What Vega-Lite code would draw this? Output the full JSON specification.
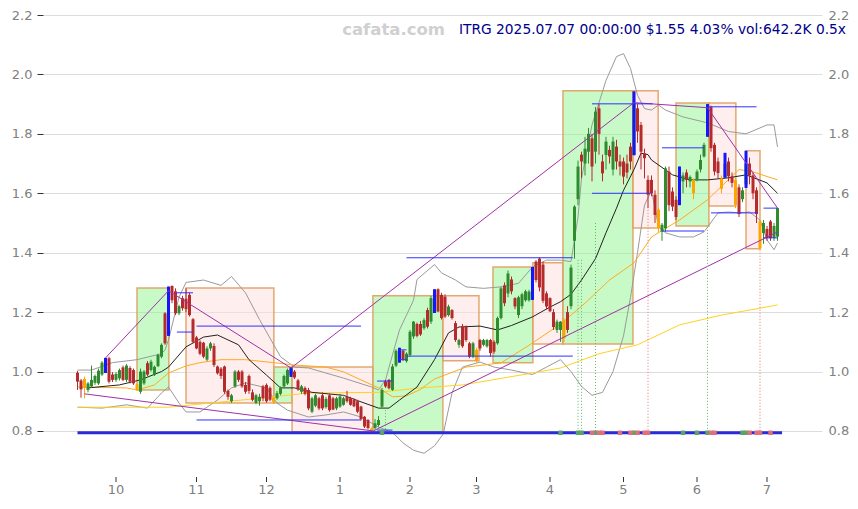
{
"$schema": "https://vega.github.io/schema/vega-lite/v6.json",
"width": 779, "height": 462,
"autosize": {"type": "none"},
"padding": {"left": 43, "top": 15, "right": 36, "bottom": 32},
"background": "white",
"config": {"view": {"stroke": null}},
"datasets": {
"candles": [
{"i":0,"o":0.996,"h":1.002,"l":0.938,"c":0.966},{"i":1,"o":0.970,"h":0.975,"l":0.912,"c":0.940},{"i":2,"o":0.975,"h":0.983,"l":0.910,"c":0.945,"f":1},{"i":3,"o":0.938,"h":0.965,"l":0.930,"c":0.960},{"i":4,"o":0.950,"h":1.020,"l":0.945,"c":0.972},{"i":5,"o":0.962,"h":0.990,"l":0.955,"c":0.985},{"i":6,"o":0.960,"h":1.010,"l":0.955,"c":1.003},{"i":7,"o":0.990,"h":1.035,"l":0.985,"c":1.030},{"i":8,"o":1.040,"h":1.046,"l":0.995,"c":1.000,"p":1},{"i":9,"o":1.045,"h":1.050,"l":0.960,"c":0.966},
{"i":10,"o":0.990,"h":0.998,"l":0.965,"c":0.972},{"i":11,"o":0.972,"h":0.998,"l":0.965,"c":0.992},{"i":12,"o":0.977,"h":1.010,"l":0.970,"c":1.005},{"i":13,"o":1.014,"h":1.020,"l":0.968,"c":0.972},{"i":14,"o":0.972,"h":1.025,"l":0.965,"c":1.020},{"i":15,"o":1.012,"h":1.018,"l":0.960,"c":0.966},{"i":16,"o":1.005,"h":1.010,"l":0.955,"c":0.960},{"i":17,"o":0.957,"h":0.960,"l":0.935,"c":0.940,"f":1},{"i":18,"o":0.932,"h":1.010,"l":0.925,"c":1.000},{"i":19,"o":0.960,"h":1.005,"l":0.955,"c":1.000},
{"i":20,"o":1.028,"h":1.035,"l":0.985,"c":0.990},{"i":21,"o":1.005,"h":1.040,"l":1.000,"c":1.033},{"i":22,"o":0.990,"h":1.020,"l":0.985,"c":1.016},{"i":23,"o":1.018,"h":1.060,"l":1.015,"c":1.056},{"i":24,"o":1.050,"h":1.095,"l":1.045,"c":1.090},{"i":25,"o":1.196,"h":1.200,"l":1.090,"c":1.095},{"i":26,"o":1.275,"h":1.286,"l":1.120,"c":1.160,"p":1},{"i":27,"o":1.288,"h":1.290,"l":1.230,"c":1.240},{"i":28,"o":1.270,"h":1.280,"l":1.190,"c":1.196},{"i":29,"o":1.196,"h":1.225,"l":1.190,"c":1.220},
{"i":30,"o":1.247,"h":1.255,"l":1.205,"c":1.213},{"i":31,"o":1.245,"h":1.280,"l":1.200,"c":1.210},{"i":32,"o":1.258,"h":1.265,"l":1.185,"c":1.190},{"i":33,"o":1.176,"h":1.180,"l":1.095,"c":1.100},{"i":34,"o":1.115,"h":1.120,"l":1.075,"c":1.078},{"i":35,"o":1.100,"h":1.105,"l":1.055,"c":1.060},{"i":36,"o":1.097,"h":1.100,"l":1.045,"c":1.050},{"i":37,"o":1.040,"h":1.085,"l":1.035,"c":1.078},{"i":38,"o":1.078,"h":1.100,"l":1.070,"c":1.095},{"i":39,"o":1.086,"h":1.095,"l":1.015,"c":1.022},
{"i":40,"o":1.017,"h":1.020,"l":0.990,"c":0.994},{"i":41,"o":1.010,"h":1.015,"l":0.975,"c":0.985},{"i":42,"o":1.017,"h":1.020,"l":0.925,"c":0.932},{"i":43,"o":0.935,"h":0.940,"l":0.905,"c":0.915},{"i":44,"o":0.900,"h":0.925,"l":0.895,"c":0.920},{"i":45,"o":0.950,"h":1.005,"l":0.945,"c":1.000},{"i":46,"o":1.000,"h":1.005,"l":0.965,"c":0.972},{"i":47,"o":1.000,"h":1.005,"l":0.945,"c":0.950},{"i":48,"o":0.955,"h":0.965,"l":0.925,"c":0.932},{"i":49,"o":0.985,"h":0.990,"l":0.925,"c":0.935},
{"i":50,"o":0.930,"h":0.940,"l":0.900,"c":0.905},{"i":51,"o":0.895,"h":0.925,"l":0.890,"c":0.920},{"i":52,"o":0.900,"h":0.925,"l":0.885,"c":0.915},{"i":53,"o":0.950,"h":0.955,"l":0.900,"c":0.910},{"i":54,"o":0.955,"h":0.960,"l":0.895,"c":0.900},{"i":55,"o":0.945,"h":0.950,"l":0.900,"c":0.905},{"i":56,"o":0.912,"h":0.915,"l":0.893,"c":0.898,"f":1},{"i":57,"o":0.910,"h":0.935,"l":0.905,"c":0.927},{"i":58,"o":0.925,"h":0.950,"l":0.920,"c":0.945},{"i":59,"o":0.950,"h":0.990,"l":0.945,"c":0.985},
{"i":60,"o":0.960,"h":1.010,"l":0.955,"c":1.005},{"i":61,"o":1.010,"h":1.015,"l":0.982,"c":0.990,"p":1},{"i":62,"o":1.000,"h":1.005,"l":0.975,"c":0.980},{"i":63,"o":0.970,"h":0.975,"l":0.935,"c":0.940},{"i":64,"o":0.932,"h":0.955,"l":0.925,"c":0.950},{"i":65,"o":0.945,"h":0.950,"l":0.920,"c":0.925},{"i":66,"o":0.938,"h":0.945,"l":0.870,"c":0.876},{"i":67,"o":0.865,"h":0.915,"l":0.860,"c":0.910},{"i":68,"o":0.885,"h":0.925,"l":0.880,"c":0.920},{"i":69,"o":0.910,"h":0.915,"l":0.870,"c":0.876},
{"i":70,"o":0.920,"h":0.930,"l":0.870,"c":0.876},{"i":71,"o":0.880,"h":0.915,"l":0.875,"c":0.908},{"i":72,"o":0.920,"h":0.925,"l":0.865,"c":0.870},{"i":73,"o":0.910,"h":0.915,"l":0.870,"c":0.872},{"i":74,"o":0.876,"h":0.915,"l":0.870,"c":0.910},{"i":75,"o":0.882,"h":0.925,"l":0.878,"c":0.916},{"i":76,"o":0.888,"h":0.915,"l":0.885,"c":0.910},{"i":77,"o":0.915,"h":0.935,"l":0.895,"c":0.900},{"i":78,"o":0.910,"h":0.915,"l":0.885,"c":0.888},{"i":79,"o":0.905,"h":0.910,"l":0.880,"c":0.883},
{"i":80,"o":0.900,"h":0.905,"l":0.860,"c":0.865},{"i":81,"o":0.882,"h":0.885,"l":0.835,"c":0.840},{"i":82,"o":0.848,"h":0.850,"l":0.810,"c":0.815},{"i":83,"o":0.837,"h":0.840,"l":0.805,"c":0.810},{"i":84,"o":0.808,"h":0.812,"l":0.797,"c":0.800,"f":1},{"i":85,"o":0.810,"h":0.840,"l":0.805,"c":0.826},{"i":86,"o":0.820,"h":0.850,"l":0.815,"c":0.837},{"i":87,"o":0.882,"h":0.945,"l":0.878,"c":0.938},{"i":88,"o":0.966,"h":0.972,"l":0.945,"c":0.950},{"i":89,"o":0.972,"h":0.975,"l":0.940,"c":0.944},
{"i":90,"o":0.938,"h":1.025,"l":0.935,"c":1.017},{"i":91,"o":1.020,"h":1.075,"l":1.015,"c":1.070},{"i":92,"o":1.073,"h":1.080,"l":1.030,"c":1.035,"p":1},{"i":93,"o":1.070,"h":1.073,"l":1.035,"c":1.040},{"i":94,"o":1.035,"h":1.065,"l":1.030,"c":1.060},{"i":95,"o":1.056,"h":1.140,"l":1.050,"c":1.134},{"i":96,"o":1.118,"h":1.170,"l":1.110,"c":1.168},{"i":97,"o":1.160,"h":1.165,"l":1.115,"c":1.120},{"i":98,"o":1.160,"h":1.170,"l":1.120,"c":1.125},{"i":99,"o":1.146,"h":1.180,"l":1.140,"c":1.173},
{"i":100,"o":1.207,"h":1.215,"l":1.145,"c":1.151},{"i":101,"o":1.168,"h":1.255,"l":1.160,"c":1.247},{"i":102,"o":1.200,"h":1.277,"l":1.197,"c":1.270,"p":1},{"i":103,"o":1.277,"h":1.280,"l":1.200,"c":1.202},{"i":104,"o":1.258,"h":1.265,"l":1.175,"c":1.180},{"i":105,"o":1.252,"h":1.260,"l":1.180,"c":1.185},{"i":106,"o":1.190,"h":1.225,"l":1.185,"c":1.219},{"i":107,"o":1.207,"h":1.210,"l":1.175,"c":1.180},{"i":108,"o":1.163,"h":1.170,"l":1.100,"c":1.106},{"i":109,"o":1.090,"h":1.110,"l":1.080,"c":1.106},
{"i":110,"o":1.151,"h":1.160,"l":1.080,"c":1.085},{"i":111,"o":1.151,"h":1.155,"l":1.100,"c":1.106},{"i":112,"o":1.095,"h":1.100,"l":1.045,"c":1.050},{"i":113,"o":1.050,"h":1.100,"l":1.045,"c":1.095},{"i":114,"o":1.073,"h":1.080,"l":1.030,"c":1.036,"f":1},{"i":115,"o":1.106,"h":1.110,"l":1.070,"c":1.078},{"i":116,"o":1.090,"h":1.110,"l":1.085,"c":1.106},{"i":117,"o":1.085,"h":1.110,"l":1.080,"c":1.106},{"i":118,"o":1.106,"h":1.110,"l":1.050,"c":1.062},{"i":119,"o":1.100,"h":1.105,"l":1.060,"c":1.067},
{"i":120,"o":1.095,"h":1.185,"l":1.090,"c":1.180},{"i":121,"o":1.180,"h":1.285,"l":1.175,"c":1.280},{"i":122,"o":1.290,"h":1.300,"l":1.220,"c":1.230},{"i":123,"o":1.263,"h":1.340,"l":1.250,"c":1.330},{"i":124,"o":1.310,"h":1.320,"l":1.260,"c":1.270},{"i":125,"o":1.247,"h":1.250,"l":1.210,"c":1.219},{"i":126,"o":1.190,"h":1.255,"l":1.180,"c":1.250},{"i":127,"o":1.220,"h":1.265,"l":1.210,"c":1.260},{"i":128,"o":1.240,"h":1.275,"l":1.235,"c":1.270},{"i":129,"o":1.240,"h":1.275,"l":1.235,"c":1.269},
{"i":130,"o":1.260,"h":1.352,"l":1.241,"c":1.345,"p":1},{"i":131,"o":1.370,"h":1.375,"l":1.300,"c":1.308},{"i":132,"o":1.380,"h":1.385,"l":1.270,"c":1.283},{"i":133,"o":1.360,"h":1.370,"l":1.230,"c":1.238},{"i":134,"o":1.263,"h":1.270,"l":1.210,"c":1.219},{"i":135,"o":1.247,"h":1.250,"l":1.200,"c":1.203},{"i":136,"o":1.200,"h":1.210,"l":1.140,"c":1.150},{"i":137,"o":1.140,"h":1.175,"l":1.130,"c":1.168},{"i":138,"o":1.140,"h":1.170,"l":1.100,"c":1.168},{"i":139,"o":1.173,"h":1.180,"l":1.100,"c":1.112,"f":1},
{"i":140,"o":1.200,"h":1.220,"l":1.130,"c":1.140},{"i":141,"o":1.220,"h":1.360,"l":1.210,"c":1.350},{"i":142,"o":1.440,"h":1.560,"l":1.380,"c":1.555},{"i":143,"o":1.580,"h":1.710,"l":1.560,"c":1.690},{"i":144,"o":1.730,"h":1.740,"l":1.650,"c":1.707},{"i":145,"o":1.700,"h":1.790,"l":1.660,"c":1.750},{"i":146,"o":1.740,"h":1.820,"l":1.700,"c":1.800},{"i":147,"o":1.785,"h":1.800,"l":1.640,"c":1.690},{"i":148,"o":1.740,"h":1.890,"l":1.700,"c":1.875},{"i":149,"o":1.886,"h":1.900,"l":1.730,"c":1.800},
{"i":150,"o":1.707,"h":1.730,"l":1.640,"c":1.667},{"i":151,"o":1.729,"h":1.790,"l":1.680,"c":1.774},{"i":152,"o":1.746,"h":1.760,"l":1.700,"c":1.724},{"i":153,"o":1.680,"h":1.790,"l":1.660,"c":1.774},{"i":154,"o":1.757,"h":1.780,"l":1.680,"c":1.707},{"i":155,"o":1.707,"h":1.730,"l":1.660,"c":1.690},{"i":156,"o":1.707,"h":1.720,"l":1.630,"c":1.656},{"i":157,"o":1.700,"h":1.730,"l":1.650,"c":1.670},{"i":158,"o":1.757,"h":1.770,"l":1.680,"c":1.707},{"i":159,"o":1.730,"h":1.943,"l":1.728,"c":1.900,"p":1},
{"i":160,"o":1.886,"h":1.900,"l":1.770,"c":1.808},{"i":161,"o":1.830,"h":1.840,"l":1.680,"c":1.740},{"i":162,"o":1.735,"h":1.750,"l":1.650,"c":1.718},{"i":163,"o":1.645,"h":1.660,"l":1.550,"c":1.595},{"i":164,"o":1.645,"h":1.660,"l":1.590,"c":1.600},{"i":165,"o":1.595,"h":1.610,"l":1.500,"c":1.527},{"i":166,"o":1.545,"h":1.550,"l":1.470,"c":1.482,"f":1},{"i":167,"o":1.471,"h":1.500,"l":1.440,"c":1.494},{"i":168,"o":1.482,"h":1.690,"l":1.470,"c":1.684},{"i":169,"o":1.673,"h":1.690,"l":1.540,"c":1.560},
{"i":170,"o":1.606,"h":1.620,"l":1.540,"c":1.555},{"i":171,"o":1.578,"h":1.590,"l":1.510,"c":1.520},{"i":172,"o":1.570,"h":1.690,"l":1.560,"c":1.680,"p":1},{"i":173,"o":1.640,"h":1.670,"l":1.600,"c":1.660},{"i":174,"o":1.670,"h":1.680,"l":1.620,"c":1.645},{"i":175,"o":1.640,"h":1.660,"l":1.620,"c":1.655},{"i":176,"o":1.645,"h":1.650,"l":1.580,"c":1.600,"f":1},{"i":177,"o":1.645,"h":1.680,"l":1.640,"c":1.673},{"i":178,"o":1.680,"h":1.730,"l":1.670,"c":1.712},{"i":179,"o":1.724,"h":1.770,"l":1.720,"c":1.763},
{"i":180,"o":1.800,"h":1.900,"l":1.790,"c":1.880,"p":1},{"i":181,"o":1.890,"h":1.895,"l":1.740,"c":1.752},{"i":182,"o":1.763,"h":1.770,"l":1.660,"c":1.673},{"i":183,"o":1.707,"h":1.720,"l":1.650,"c":1.668},{"i":184,"o":1.650,"h":1.660,"l":1.600,"c":1.615,"f":1},{"i":185,"o":1.655,"h":1.736,"l":1.652,"c":1.700,"p":1},{"i":186,"o":1.707,"h":1.720,"l":1.640,"c":1.657},{"i":187,"o":1.657,"h":1.670,"l":1.620,"c":1.635},{"i":188,"o":1.645,"h":1.650,"l":1.550,"c":1.561,"f":1},{"i":189,"o":1.620,"h":1.630,"l":1.520,"c":1.530},
{"i":190,"o":1.580,"h":1.620,"l":1.570,"c":1.610},{"i":191,"o":1.630,"h":1.743,"l":1.618,"c":1.700,"p":1},{"i":192,"o":1.700,"h":1.720,"l":1.630,"c":1.660},{"i":193,"o":1.660,"h":1.670,"l":1.580,"c":1.600},{"i":194,"o":1.610,"h":1.620,"l":1.500,"c":1.530},{"i":195,"o":1.505,"h":1.510,"l":1.410,"c":1.415,"f":1},{"i":196,"o":1.466,"h":1.510,"l":1.430,"c":1.500},{"i":197,"o":1.480,"h":1.490,"l":1.440,"c":1.450},{"i":198,"o":1.505,"h":1.510,"l":1.440,"c":1.449},{"i":199,"o":1.450,"h":1.500,"l":1.440,"c":1.490},
{"i":200,"o":1.454,"h":1.550,"l":1.440,"c":1.550}
],
"lines": [
{"s":"bbu","i":0,"v":1.005},{"s":"bbu","i":4,"v":1.005},{"s":"bbu","i":10,"v":1.03},{"s":"bbu","i":17,"v":1.04},{"s":"bbu","i":24,"v":1.06},{"s":"bbu","i":25,"v":1.073},{"s":"bbu","i":26,"v":1.106},{"s":"bbu","i":29,"v":1.25},{"s":"bbu","i":31,"v":1.3},{"s":"bbu","i":36,"v":1.308},{"s":"bbu","i":41,"v":1.29},{"s":"bbu","i":44,"v":1.32},{"s":"bbu","i":48,"v":1.265},{"s":"bbu","i":52,"v":1.175},{"s":"bbu","i":58,"v":1.05},{"s":"bbu","i":62,"v":1.015},{"s":"bbu","i":66,"v":1.012},{"s":"bbu","i":76,"v":0.978},{"s":"bbu","i":84,"v":0.948},{"s":"bbu","i":86,"v":0.938},{"s":"bbu","i":88,"v":0.972},{"s":"bbu","i":92,"v":1.14},{"s":"bbu","i":96,"v":1.24},{"s":"bbu","i":97,"v":1.31},{"s":"bbu","i":102,"v":1.36},{"s":"bbu","i":104,"v":1.332},{"s":"bbu","i":108,"v":1.308},{"s":"bbu","i":111,"v":1.285},{"s":"bbu","i":116,"v":1.28},{"s":"bbu","i":121,"v":1.285},{"s":"bbu","i":126,"v":1.297},{"s":"bbu","i":130,"v":1.352},{"s":"bbu","i":134,"v":1.375},{"s":"bbu","i":138,"v":1.375},{"s":"bbu","i":141,"v":1.37},{"s":"bbu","i":143,"v":1.52},{"s":"bbu","i":144,"v":1.65},{"s":"bbu","i":147,"v":1.83},{"s":"bbu","i":151,"v":1.98},{"s":"bbu","i":154,"v":2.06},{"s":"bbu","i":156,"v":2.07},{"s":"bbu","i":158,"v":2.02},{"s":"bbu","i":160,"v":1.93},{"s":"bbu","i":162,"v":1.885},{"s":"bbu","i":164,"v":1.88},{"s":"bbu","i":166,"v":1.897},{"s":"bbu","i":168,"v":1.88},{"s":"bbu","i":173,"v":1.857},{"s":"bbu","i":180,"v":1.837},{"s":"bbu","i":186,"v":1.808},{"s":"bbu","i":191,"v":1.8},{"s":"bbu","i":197,"v":1.83},{"s":"bbu","i":199,"v":1.83},{"s":"bbu","i":200,"v":1.756},
{"s":"bbl","i":0,"v":0.88},{"s":"bbl","i":7,"v":0.877},{"s":"bbl","i":14,"v":0.888},{"s":"bbl","i":20,"v":0.877},{"s":"bbl","i":24,"v":0.928},{"s":"bbl","i":26,"v":0.948},{"s":"bbl","i":29,"v":0.894},{"s":"bbl","i":31,"v":0.864},{"s":"bbl","i":35,"v":0.864},{"s":"bbl","i":40,"v":0.904},{"s":"bbl","i":44,"v":0.945},{"s":"bbl","i":48,"v":0.962},{"s":"bbl","i":54,"v":0.945},{"s":"bbl","i":57,"v":0.894},{"s":"bbl","i":60,"v":0.87},{"s":"bbl","i":66,"v":0.847},{"s":"bbl","i":71,"v":0.854},{"s":"bbl","i":76,"v":0.864},{"s":"bbl","i":81,"v":0.847},{"s":"bbl","i":86,"v":0.813},{"s":"bbl","i":90,"v":0.795},{"s":"bbl","i":93,"v":0.76},{"s":"bbl","i":96,"v":0.735},{"s":"bbl","i":99,"v":0.725},{"s":"bbl","i":102,"v":0.75},{"s":"bbl","i":104.5,"v":0.79},{"s":"bbl","i":107,"v":0.928},{"s":"bbl","i":110,"v":1.015},{"s":"bbl","i":115,"v":1.032},{"s":"bbl","i":119,"v":1.015},{"s":"bbl","i":124,"v":1.005},{"s":"bbl","i":130,"v":0.99},{"s":"bbl","i":134,"v":1.015},{"s":"bbl","i":138,"v":1.04},{"s":"bbl","i":141,"v":1.0},{"s":"bbl","i":144,"v":0.95},{"s":"bbl","i":147,"v":0.92},{"s":"bbl","i":150,"v":0.93},{"s":"bbl","i":153,"v":1.0},{"s":"bbl","i":156,"v":1.12},{"s":"bbl","i":158,"v":1.25},{"s":"bbl","i":160,"v":1.40},{"s":"bbl","i":162,"v":1.56},{"s":"bbl","i":164,"v":1.61},{"s":"bbl","i":166,"v":1.487},{"s":"bbl","i":168,"v":1.467},{"s":"bbl","i":172,"v":1.453},{"s":"bbl","i":176,"v":1.453},{"s":"bbl","i":179,"v":1.47},{"s":"bbl","i":183,"v":1.534},{"s":"bbl","i":186,"v":1.537},{"s":"bbl","i":189,"v":1.534},{"s":"bbl","i":192,"v":1.537},{"s":"bbl","i":195,"v":1.51},{"s":"bbl","i":197,"v":1.443},{"s":"bbl","i":199,"v":1.41},{"s":"bbl","i":200,"v":1.433},
{"s":"may","i":0,"v":0.88},{"s":"may","i":26,"v":0.88},{"s":"may","i":38,"v":0.894},{"s":"may","i":52,"v":0.91},{"s":"may","i":66,"v":0.928},{"s":"may","i":86,"v":0.93},{"s":"may","i":98,"v":0.945},{"s":"may","i":110,"v":0.955},{"s":"may","i":130,"v":0.995},{"s":"may","i":138,"v":1.012},{"s":"may","i":149,"v":1.06},{"s":"may","i":160,"v":1.09},{"s":"may","i":172,"v":1.157},{"s":"may","i":184,"v":1.19},{"s":"may","i":200,"v":1.224},
{"s":"mao","i":0,"v":0.948},{"s":"mao","i":14,"v":0.945},{"s":"mao","i":17,"v":0.938},{"s":"mao","i":22,"v":0.955},{"s":"mao","i":26,"v":0.995},{"s":"mao","i":31,"v":1.019},{"s":"mao","i":35,"v":1.03},{"s":"mao","i":41,"v":1.04},{"s":"mao","i":48,"v":1.04},{"s":"mao","i":56,"v":1.03},{"s":"mao","i":62,"v":1.022},{"s":"mao","i":71,"v":1.015},{"s":"mao","i":76,"v":0.999},{"s":"mao","i":81,"v":0.972},{"s":"mao","i":86,"v":0.945},{"s":"mao","i":90,"v":0.915},{"s":"mao","i":94,"v":0.918},{"s":"mao","i":98,"v":0.94},{"s":"mao","i":102,"v":0.975},{"s":"mao","i":111,"v":1.015},{"s":"mao","i":121,"v":1.029},{"s":"mao","i":130,"v":1.096},{"s":"mao","i":138,"v":1.16},{"s":"mao","i":145,"v":1.23},{"s":"mao","i":152,"v":1.308},{"s":"mao","i":159,"v":1.366},{"s":"mao","i":164,"v":1.453},{"s":"mao","i":172,"v":1.51},{"s":"mao","i":180,"v":1.578},{"s":"mao","i":189,"v":1.68},{"s":"mao","i":193,"v":1.672},{"s":"mao","i":200,"v":1.645},
{"s":"mak","i":3,"v":0.945},{"s":"mak","i":12,"v":0.955},{"s":"mak","i":18,"v":0.972},{"s":"mak","i":24,"v":1.0},{"s":"mak","i":26,"v":1.015},{"s":"mak","i":31,"v":1.083},{"s":"mak","i":36,"v":1.116},{"s":"mak","i":40,"v":1.123},{"s":"mak","i":46,"v":1.09},{"s":"mak","i":49,"v":1.04},{"s":"mak","i":54,"v":0.988},{"s":"mak","i":58,"v":0.945},{"s":"mak","i":62,"v":0.945},{"s":"mak","i":67,"v":0.93},{"s":"mak","i":76,"v":0.92},{"s":"mak","i":81,"v":0.898},{"s":"mak","i":86,"v":0.877},{"s":"mak","i":89,"v":0.877},{"s":"mak","i":92,"v":0.904},{"s":"mak","i":97,"v":0.948},{"s":"mak","i":102,"v":1.04},{"s":"mak","i":106,"v":1.13},{"s":"mak","i":109,"v":1.15},{"s":"mak","i":115,"v":1.153},{"s":"mak","i":120,"v":1.14},{"s":"mak","i":124,"v":1.155},{"s":"mak","i":130,"v":1.184},{"s":"mak","i":135,"v":1.217},{"s":"mak","i":138,"v":1.235},{"s":"mak","i":141,"v":1.26},{"s":"mak","i":144,"v":1.308},{"s":"mak","i":148,"v":1.38},{"s":"mak","i":151,"v":1.467},{"s":"mak","i":154,"v":1.55},{"s":"mak","i":156,"v":1.61},{"s":"mak","i":159,"v":1.68},{"s":"mak","i":161,"v":1.735},{"s":"mak","i":163,"v":1.73},{"s":"mak","i":164,"v":1.712},{"s":"mak","i":170,"v":1.662},{"s":"mak","i":175,"v":1.645},{"s":"mak","i":180,"v":1.645},{"s":"mak","i":186,"v":1.652},{"s":"mak","i":191,"v":1.662},{"s":"mak","i":197,"v":1.635},{"s":"mak","i":200,"v":1.6}
],
"zigzag": [
{"g":"a","i":8,"v":1.046},{"g":"a","i":26,"v":1.272},{"g":"a","i":61,"v":1.012},{"g":"a","i":159,"v":1.905},{"g":"a","i":180,"v":1.888},{"g":"a","i":200,"v":1.55},
{"g":"b","i":2,"v":0.925},{"g":"b","i":84.5,"v":0.80},{"g":"b","i":200,"v":1.47}
],
"levels": [
{"i1":28.4,"i2":33,"v":1.265},{"i1":28.4,"i2":33,"v":1.133},{"i1":34,"i2":81,"v":1.153},{"i1":34,"i2":81,"v":0.837},{"i1":85.6,"i2":90,"v":0.968},{"i1":85.6,"i2":90,"v":0.803},{"i1":92,"i2":94,"v":1.073},{"i1":92,"i2":94,"v":1.04},{"i1":94,"i2":141.5,"v":1.383},{"i1":94,"i2":141.5,"v":1.052},{"i1":147,"i2":164.3,"v":1.901},{"i1":147,"i2":163.7,"v":1.60},{"i1":167,"i2":179,"v":1.753},{"i1":167,"i2":179,"v":1.473},{"i1":180,"i2":194,"v":1.891},{"i1":181,"i2":194.4,"v":1.534},{"i1":196,"i2":200,"v":1.55},{"i1":196,"i2":200,"v":1.45}
],
"boxes": [
{"t":"up","i1":17,"i2":26.1,"v1":0.938,"v2":1.281},{"t":"dn","i1":31,"i2":56.1,"v1":0.894,"v2":1.281},{"t":"up","i1":56.1,"i2":61.3,"v1":0.894,"v2":1.015},{"t":"dn","i1":61.3,"i2":84.4,"v1":0.797,"v2":1.015},{"t":"up","i1":84.4,"i2":104.4,"v1":0.797,"v2":1.255},{"t":"dn","i1":104.4,"i2":114.7,"v1":1.036,"v2":1.255},{"t":"up","i1":118.7,"i2":130.1,"v1":1.03,"v2":1.352},{"t":"dn","i1":130.1,"i2":138.7,"v1":1.093,"v2":1.366},{"t":"up","i1":138.7,"i2":158.7,"v1":1.093,"v2":1.945},{"t":"dn","i1":158.7,"i2":165.9,"v1":1.483,"v2":1.945},{"t":"up","i1":171,"i2":180.4,"v1":1.49,"v2":1.904},{"t":"dn","i1":180.4,"i2":188.1,"v1":1.557,"v2":1.904},{"t":"dn","i1":191,"i2":195,"v1":1.413,"v2":1.743}
],
"signals": [
{"t":"up","i":87},{"t":"up","i":138},{"t":"up","i":143},{"t":"up","i":144},{"t":"up","i":148},{"t":"up","i":159},{"t":"up","i":173},{"t":"up","i":177},{"t":"up","i":180},{"t":"up","i":190},{"t":"up","i":191},
{"t":"dn","i":147},{"t":"dn","i":149},{"t":"dn","i":150},{"t":"dn","i":155},{"t":"dn","i":158},{"t":"dn","i":160},{"t":"dn","i":162},{"t":"dn","i":163},{"t":"dn","i":181},{"t":"dn","i":182},{"t":"dn","i":192},{"t":"dn","i":194},{"t":"dn","i":195},{"t":"dn","i":198}
],
"drops": [
{"t":"up","i":88,"v":0.87},{"t":"up","i":143,"v":1.376},{"t":"up","i":144,"v":1.376},{"t":"up","i":148,"v":1.5},{"t":"dn","i":163,"v":1.595},{"t":"up","i":180,"v":1.487},{"t":"dn","i":195,"v":1.41}
],
"base": [{"i1":0,"i2":201.3,"v":0.794}],
"months": [{"i":11,"m":"10"},{"i":34,"m":"11"},{"i":54,"m":"12"},{"i":75,"m":"1"},{"i":95,"m":"2"},{"i":114,"m":"3"},{"i":135,"m":"4"},{"i":156,"m":"5"},{"i":177,"m":"6"},{"i":197,"m":"7"}]
},
"resolve": {"axis": {"y": "independent"}, "scale": {"color": "independent", "fill": "independent"}},
"layer": [
{
"data": {"name": "boxes"},
"mark": {"type": "rect", "stroke": "#e0a060", "strokeWidth": 1.5, "strokeOpacity": 0.9, "fillOpacity": 0.5},
"encoding": {
"x": {"field": "i1", "type": "quantitative", "scale": {"domain": [-9.857, 212.71], "nice": false, "zero": false},
"axis": {"values": [11,34,54,75,95,114,135,156,177,197], "title": null, "domain": false, "grid": true, "gridColor": "#dddddd", "labels": false, "ticks": false}},
"x2": {"field": "i2"},
"y": {"field": "v1", "type": "quantitative", "scale": {"domain": [0.6451, 2.2], "nice": false, "zero": false},
"axis": {"orient": "left", "values": [0.8,1.0,1.2,1.4,1.6,1.8,2.0,2.2], "format": ".1f", "title": null, "domain": false, "grid": true, "gridColor": "#dddddd", "tickColor": "#333333", "tickSize": 6, "labelColor": "#808080", "labelFont": "DejaVu Sans", "labelFontSize": 13, "labelPadding": 5}},
"y2": {"field": "v2"},
"fill": {"field": "t", "type": "nominal", "scale": {"domain": ["up","dn"], "range": ["#91f591","#ffdddd"]}, "legend": null}
}
},
{
"data": {"name": "lines"},
"mark": {"type": "line", "strokeWidth": 1},
"encoding": {
"x": {"field": "i", "type": "quantitative", "scale": {"domain": [-9.857, 212.71], "nice": false, "zero": false}, "axis": null},
"y": {"field": "v", "type": "quantitative", "scale": {"domain": [0.6451, 2.2], "nice": false, "zero": false},
"axis": {"orient": "right", "values": [0.8,1.0,1.2,1.4,1.6,1.8,2.0,2.2], "format": ".1f", "title": null, "domain": false, "grid": false, "ticks": false, "labelColor": "#808080", "labelFont": "DejaVu Sans", "labelFontSize": 13, "labelPadding": 6}},
"color": {"field": "s", "type": "nominal", "scale": {"domain": ["bbu","bbl","may","mao","mak"], "range": ["#9a9a9a","#9a9a9a","#ffd21f","#ffaa20","#222222"]}, "legend": null},
"detail": {"field": "s"}
}
},
{
"data": {"name": "candles"},
"mark": {"type": "rule", "strokeWidth": 1},
"encoding": {
"x": {"field": "i", "type": "quantitative", "scale": {"domain": [-9.857, 212.71], "nice": false, "zero": false}, "axis": null},
"y": {"field": "l", "type": "quantitative", "scale": {"domain": [0.6451, 2.2], "nice": false, "zero": false}, "axis": null},
"y2": {"field": "h"},
"color": {"condition": [{"test": "datum.f == 1", "value": "#ffa500"}, {"test": "datum.c >= datum.o", "value": "#2e8b2e"}], "value": "#b52a2a"}
}
},
{
"data": {"name": "candles"},
"mark": {"type": "rule", "strokeWidth": 3},
"encoding": {
"x": {"field": "i", "type": "quantitative", "scale": {"domain": [-9.857, 212.71], "nice": false, "zero": false}, "axis": null},
"y": {"field": "o", "type": "quantitative", "scale": {"domain": [0.6451, 2.2], "nice": false, "zero": false}, "axis": null},
"y2": {"field": "c"},
"color": {"condition": [{"test": "datum.f == 1", "value": "#ffa500"}, {"test": "datum.c >= datum.o", "value": "#2e8b2e"}], "value": "#b52a2a"}
}
},
{
"data": {"name": "candles"},
"transform": [{"filter": "datum.p == 1"}],
"mark": {"type": "rule", "strokeWidth": 3, "color": "#1515ff"},
"encoding": {
"x": {"field": "i", "type": "quantitative", "scale": {"domain": [-9.857, 212.71], "nice": false, "zero": false}, "axis": null},
"y": {"field": "l", "type": "quantitative", "scale": {"domain": [0.6451, 2.2], "nice": false, "zero": false}, "axis": null},
"y2": {"field": "h"}
}
},
{
"data": {"name": "zigzag"},
"mark": {"type": "line", "strokeWidth": 1, "color": "#a030a8"},
"encoding": {
"x": {"field": "i", "type": "quantitative", "scale": {"domain": [-9.857, 212.71], "nice": false, "zero": false}, "axis": null},
"y": {"field": "v", "type": "quantitative", "scale": {"domain": [0.6451, 2.2], "nice": false, "zero": false}, "axis": null},
"detail": {"field": "g"}
}
},
{
"data": {"name": "levels"},
"mark": {"type": "rule", "strokeWidth": 1, "color": "#3030ff"},
"encoding": {
"x": {"field": "i1", "type": "quantitative", "scale": {"domain": [-9.857, 212.71], "nice": false, "zero": false}, "axis": null},
"x2": {"field": "i2"},
"y": {"field": "v", "type": "quantitative", "scale": {"domain": [0.6451, 2.2], "nice": false, "zero": false}, "axis": null}
}
},
{
"data": {"name": "drops"},
"mark": {"type": "rule", "strokeWidth": 1, "strokeDash": [1, 2]},
"encoding": {
"x": {"field": "i", "type": "quantitative", "scale": {"domain": [-9.857, 212.71], "nice": false, "zero": false}, "axis": null},
"y": {"field": "v", "type": "quantitative", "scale": {"domain": [0.6451, 2.2], "nice": false, "zero": false}, "axis": null},
"y2": {"datum": 0.794},
"color": {"field": "t", "type": "nominal", "scale": {"domain": ["up","dn"], "range": ["#5fb86a","#e07070"]}, "legend": null}
}
},
{
"data": {"name": "base"},
"mark": {"type": "rule", "strokeWidth": 3, "color": "#2a2ad8"},
"encoding": {
"x": {"field": "i1", "type": "quantitative", "scale": {"domain": [-9.857, 212.71], "nice": false, "zero": false}, "axis": null},
"x2": {"field": "i2"},
"y": {"field": "v", "type": "quantitative", "scale": {"domain": [0.6451, 2.2], "nice": false, "zero": false}, "axis": null}
}
},
{
"data": {"name": "signals"},
"mark": {"type": "square", "size": 20, "opacity": 1},
"encoding": {
"x": {"field": "i", "type": "quantitative", "scale": {"domain": [-9.857, 212.71], "nice": false, "zero": false}, "axis": null},
"y": {"datum": 0.794, "type": "quantitative", "scale": {"domain": [0.6451, 2.2], "nice": false, "zero": false}, "axis": null},
"color": {"field": "t", "type": "nominal", "scale": {"domain": ["up","dn"], "range": ["#5aa469","#e0707a"]}, "legend": null}
}
},
{
"data": {"name": "months"},
"mark": {"type": "rule", "strokeWidth": 1, "color": "#333333"},
"encoding": {
"x": {"field": "i", "type": "quantitative", "scale": {"domain": [-9.857, 212.71], "nice": false, "zero": false}, "axis": null},
"y": {"datum": 0.6451, "type": "quantitative", "scale": {"domain": [0.6451, 2.2], "nice": false, "zero": false}, "axis": null},
"y2": {"datum": 0.6283}
}
},
{
"data": {"name": "months"},
"mark": {"type": "text", "align": "center", "baseline": "middle", "font": "DejaVu Sans", "fontSize": 13, "color": "#808080"},
"encoding": {
"x": {"field": "i", "type": "quantitative", "scale": {"domain": [-9.857, 212.71], "nice": false, "zero": false}, "axis": null},
"y": {"datum": 0.601, "type": "quantitative", "scale": {"domain": [0.6451, 2.2], "nice": false, "zero": false}, "axis": null},
"text": {"field": "m"}
}
},
{
"data": {"values": [{"label": "cafata.com"}]},
"mark": {"type": "text", "align": "center", "baseline": "middle", "font": "DejaVu Sans", "fontWeight": "bold", "fontSize": 16.5, "color": "#d0d0d0"},
"encoding": {
"x": {"datum": 90.3, "type": "quantitative", "scale": {"domain": [-9.857, 212.71], "nice": false, "zero": false}, "axis": null},
"y": {"datum": 2.15, "type": "quantitative", "scale": {"domain": [0.6451, 2.2], "nice": false, "zero": false}, "axis": null},
"text": {"field": "label"}
}
},
{
"data": {"values": [{"label": "ITRG 2025.07.07 00:00:00 $1.55 4.03% vol:642.2K 0.5x"}]},
"mark": {"type": "text", "align": "right", "baseline": "middle", "font": "DejaVu Sans", "fontSize": 13.8, "color": "#00008b"},
"encoding": {
"x": {"datum": 219.57, "type": "quantitative", "scale": {"domain": [-9.857, 212.71], "nice": false, "zero": false}, "axis": null},
"y": {"datum": 2.15, "type": "quantitative", "scale": {"domain": [0.6451, 2.2], "nice": false, "zero": false}, "axis": null},
"text": {"field": "label"}
}
}
]
}
